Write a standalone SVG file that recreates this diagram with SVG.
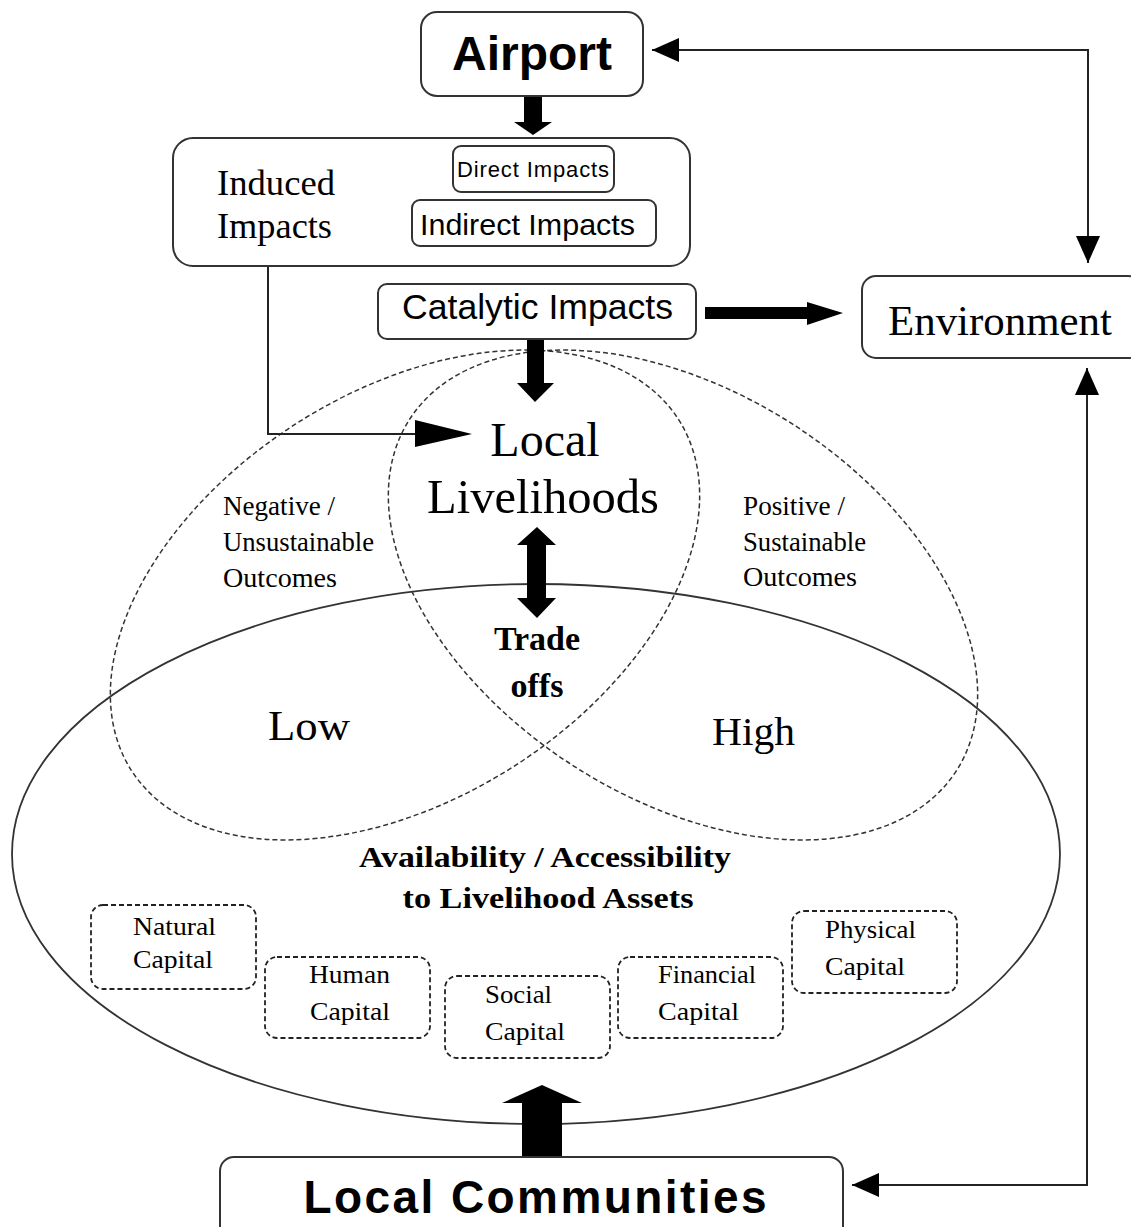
<svg xmlns="http://www.w3.org/2000/svg" width="1131" height="1227" viewBox="0 0 1131 1227">
<style>
.box{fill:#fff;stroke:#333;stroke-width:2}
.dbox{fill:none;stroke:#222;stroke-width:1.8;stroke-dasharray:5,3}
.dell{fill:none;stroke:#333;stroke-width:1.5;stroke-dasharray:5,3}
.ell{fill:none;stroke:#333;stroke-width:1.8}
.line{fill:none;stroke:#222;stroke-width:2}
.blk{fill:#000}
.sans{font-family:"Liberation Sans",Arial,sans-serif;fill:#000}
.serif{font-family:"Liberation Serif","Times New Roman",serif;fill:#000}
.cap{font-family:"Liberation Serif","Times New Roman",serif;font-size:26px;fill:#000}
</style>
<defs>
<marker id="ah" viewBox="0 0 27 24" refX="27" refY="12" markerWidth="27" markerHeight="24" markerUnits="userSpaceOnUse" orient="auto-start-reverse">
<path d="M0,0 L27,12 L0,24 z" fill="#000"/>
</marker>
</defs>
<rect width="1131" height="1227" fill="#fff"/>

<g id="venn">
<ellipse class="ell" cx="536" cy="854" rx="524" ry="270"/>
<ellipse class="dell" cx="405" cy="595" rx="325" ry="203" transform="rotate(-32.7 405 595)"/>
<ellipse class="dell" cx="683" cy="595" rx="325" ry="203" transform="rotate(32.7 683 595)"/>
</g>

<g id="connectors">
<path class="line" d="M652,50 L1088,50 L1088,263" marker-start="url(#ah)" marker-end="url(#ah)"/>
<path class="line" d="M1087,368 L1087,1185 L852,1185" marker-start="url(#ah)" marker-end="url(#ah)"/>
<path class="line" d="M268,266 L268,434 L420,434"/>
<polygon class="blk" points="415,420 472,434 415,447"/>
<polygon class="blk" points="524,96 542,96 542,122 552,122 533,135 514,122 524,122"/>
<polygon class="blk" points="527,339 544,339 544,383 554,383 535,402 517,383 527,383"/>
<polygon class="blk" points="705,307 807,307 807,302 843,313 807,325 807,319 705,319"/>
<polygon class="blk" points="537,527 556,545 546,545 546,598 556,598 537,618 517,598 527,598 527,545 517,545"/>
<polygon class="blk" points="522,1157 522,1103 502,1103 542,1085 582,1103 562,1103 562,1157"/>
</g>

<g id="airport">
<rect class="box" x="421" y="12" width="222" height="84" rx="16"/>
<text class="sans" x="532" y="70" font-size="48" font-weight="bold" text-anchor="middle">Airport</text>
</g>

<g id="impacts">
<rect class="box" x="173" y="138" width="517" height="128" rx="20"/>
<text class="serif" x="217" y="195" font-size="35" textLength="118" lengthAdjust="spacingAndGlyphs">Induced</text>
<text class="serif" x="217" y="238" font-size="35" textLength="115" lengthAdjust="spacingAndGlyphs">Impacts</text>
</g>
<g id="direct">
<rect class="box" x="453" y="146" width="161" height="46" rx="8"/>
<text class="sans" x="457" y="177" font-size="22" textLength="152" lengthAdjust="spacing">Direct Impacts</text>
</g>
<g id="indirect">
<rect class="box" x="412" y="200" width="244" height="46" rx="8"/>
<text class="sans" x="420" y="235" font-size="30" textLength="215" lengthAdjust="spacingAndGlyphs">Indirect Impacts</text>
</g>

<g id="catalytic">
<rect class="box" x="378" y="284" width="318" height="55" rx="9"/>
<text class="sans" x="402" y="319" font-size="35" textLength="271" lengthAdjust="spacingAndGlyphs">Catalytic Impacts</text>
</g>

<g id="environment">
<rect class="box" x="862" y="276" width="280" height="82" rx="14"/>
<text class="serif" x="888" y="335" font-size="42" textLength="224" lengthAdjust="spacingAndGlyphs">Environment</text>
</g>

<g id="livelihoods">
<text class="serif" x="545" y="456" font-size="48" text-anchor="middle">Local</text>
<text class="serif" x="543" y="513" font-size="48" text-anchor="middle" textLength="232" lengthAdjust="spacingAndGlyphs">Livelihoods</text>
</g>

<g id="tradeoffs">
<text class="serif" x="537" y="650" font-size="34" font-weight="bold" text-anchor="middle">Trade</text>
<text class="serif" x="537" y="697" font-size="34" font-weight="bold" text-anchor="middle">offs</text>
</g>

<g id="negative">
<text class="serif" x="223" y="515" font-size="27" textLength="112" lengthAdjust="spacingAndGlyphs">Negative /</text>
<text class="serif" x="223" y="551" font-size="27" textLength="151" lengthAdjust="spacingAndGlyphs">Unsustainable</text>
<text class="serif" x="223" y="587" font-size="27" textLength="114" lengthAdjust="spacingAndGlyphs">Outcomes</text>
</g>
<g id="positive">
<text class="serif" x="743" y="515" font-size="27" textLength="102" lengthAdjust="spacingAndGlyphs">Positive /</text>
<text class="serif" x="743" y="551" font-size="27" textLength="123" lengthAdjust="spacingAndGlyphs">Sustainable</text>
<text class="serif" x="743" y="586" font-size="27" textLength="114" lengthAdjust="spacingAndGlyphs">Outcomes</text>
</g>

<g id="low"><text class="serif" x="268" y="740" font-size="42" textLength="82" lengthAdjust="spacingAndGlyphs">Low</text></g>
<g id="high"><text class="serif" x="712" y="745" font-size="41" textLength="83" lengthAdjust="spacingAndGlyphs">High</text></g>

<g id="assets">
<text class="serif" x="545" y="867" font-size="29" font-weight="bold" text-anchor="middle" textLength="372" lengthAdjust="spacingAndGlyphs">Availability / Accessibility</text>
<text class="serif" x="548" y="908" font-size="29" font-weight="bold" text-anchor="middle" textLength="291" lengthAdjust="spacingAndGlyphs">to Livelihood Assets</text>
</g>

<g id="natural">
<rect class="dbox" x="91" y="905" width="165" height="84" rx="12"/>
<text class="cap" x="133" y="935" textLength="83" lengthAdjust="spacingAndGlyphs">Natural</text>
<text class="cap" x="133" y="968" textLength="80" lengthAdjust="spacingAndGlyphs">Capital</text>
</g>
<g id="human">
<rect class="dbox" x="265" y="957" width="165" height="81" rx="12"/>
<text class="cap" x="309" y="983" textLength="81" lengthAdjust="spacingAndGlyphs">Human</text>
<text class="cap" x="310" y="1020" textLength="80" lengthAdjust="spacingAndGlyphs">Capital</text>
</g>
<g id="social">
<rect class="dbox" x="445" y="976" width="165" height="82" rx="12"/>
<text class="cap" x="485" y="1003" textLength="67" lengthAdjust="spacingAndGlyphs">Social</text>
<text class="cap" x="485" y="1040" textLength="80" lengthAdjust="spacingAndGlyphs">Capital</text>
</g>
<g id="financial">
<rect class="dbox" x="618" y="957" width="165" height="81" rx="12"/>
<text class="cap" x="658" y="983" textLength="98" lengthAdjust="spacingAndGlyphs">Financial</text>
<text class="cap" x="658" y="1020" textLength="81" lengthAdjust="spacingAndGlyphs">Capital</text>
</g>
<g id="physical">
<rect class="dbox" x="792" y="911" width="165" height="82" rx="12"/>
<text class="cap" x="825" y="938" textLength="91" lengthAdjust="spacingAndGlyphs">Physical</text>
<text class="cap" x="825" y="975" textLength="80" lengthAdjust="spacingAndGlyphs">Capital</text>
</g>

<g id="communities">
<rect class="box" x="220" y="1157" width="623" height="90" rx="14"/>
<text class="sans" x="535" y="1213" font-size="46" font-weight="bold" text-anchor="middle" textLength="463" lengthAdjust="spacing">Local Communities</text>
</g>
</svg>
